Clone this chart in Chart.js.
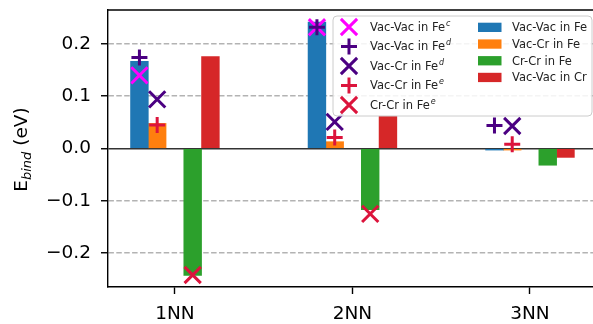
<!DOCTYPE html>
<html>
<head>
<meta charset="utf-8">
<script src="https://cdn.jsdelivr.net/npm/chart.js@4.4.1/dist/chart.umd.min.js"></script>
<style>
  html, body { margin: 0; padding: 0; background: #fff; }
  #wrap { width: 593px; height: 324px; position: relative; }
</style>
</head>
<body>
<div id="wrap"><canvas id="bindChart"></canvas></div>
<script>
const categories = ['1NN', '2NN', '3NN'];

// computed binding energies (eV), one bar per category
const vacVacFe = [0.167, 0.242, -0.003];
const vacCrFe  = [0.048, 0.013, -0.003];
const crCrFe   = [-0.243, -0.117, -0.032];
const vacVacCr = [0.176, 0.062, -0.017];

// literature values (eV)
const vacVacFeC = [0.140, 0.232, null];
const vacVacFeD = [0.174, 0.232, 0.044];
const vacCrFeD  = [0.094, 0.051, 0.043];
const vacCrFeE  = [0.045, 0.021, 0.008];
const crCrFeE   = [-0.242, -0.125, null];

const yTicks = [-0.2, -0.1, 0.0, 0.1, 0.2];

// five slots of 0.1 around each category, middle one left empty
const SLOT_W = 0.1;
const slotX = (i, slot) => i + (slot - 2) * SLOT_W;
const toPoints = (vals, slot) => vals.map((v, i) => ({ x: slotX(i, slot), y: v }));

const FONT = 'DejaVu Sans';
Chart.defaults.font.family = FONT;
Chart.defaults.color = '#000';

function barSet(label, vals, slot, color) {
  return {
    type: 'bar', label, data: toPoints(vals, slot),
    backgroundColor: color, borderWidth: 0,
    grouped: false, barPercentage: 1, categoryPercentage: 1, order: 10
  };
}

function markSet(label, sup, vals, slot, color, style, order) {
  return {
    type: 'scatter', label, sup, data: toPoints(vals, slot),
    pointStyle: style, radius: style === 'cross' ? 8 : 11.5,
    borderColor: color, backgroundColor: color, borderWidth: 3,
    showLine: false, order
  };
}

const insetLegend = {
  id: 'insetLegend',
  afterDraw(chart) {
    const { ctx, chartArea } = chart;
    const x0 = chartArea.right - 260, y0 = chartArea.top + 6;
    ctx.save();
    ctx.beginPath();
    ctx.roundRect(x0, y0, 259, 100, 4);
    ctx.fillStyle = 'rgba(255,255,255,0.85)';
    ctx.fill();
    ctx.strokeStyle = '#cccccc';
    ctx.lineWidth = 1;
    ctx.stroke();

    const marks = chart.data.datasets.filter(d => d.type === 'scatter');
    const bars = chart.data.datasets.filter(d => d.type === 'bar');
    ctx.textBaseline = 'alphabetic';

    marks.forEach((d, k) => {
      const cy = y0 + 10.5 + k * 19.5;
      ctx.strokeStyle = d.borderColor;
      ctx.fillStyle = d.borderColor;
      ctx.lineWidth = d.borderWidth;
      Chart.helpers.drawPoint(ctx, { pointStyle: d.pointStyle, radius: d.radius, rotation: 0, borderWidth: d.borderWidth }, x0 + 16, cy + 0.5);
      ctx.fillStyle = '#222';
      ctx.font = '11.5px ' + FONT;
      ctx.fillText(d.label, x0 + 37, cy + 4);
      const w = ctx.measureText(d.label).width;
      ctx.font = 'italic 8px ' + FONT;
      ctx.fillText(d.sup, x0 + 38 + w, cy - 1);
    });

    bars.forEach((d, k) => {
      const cy = y0 + 11.3 + k * 16.7;
      ctx.fillStyle = d.backgroundColor;
      ctx.fillRect(x0 + 145, cy - 4.6, 23.5, 9.3);
      ctx.fillStyle = '#222';
      ctx.font = '11.5px ' + FONT;
      ctx.fillText(d.label, x0 + 179, cy + 4);
    });
    ctx.restore();
  }
};

const frameAndTitle = {
  id: 'frameAndTitle',
  afterDraw(chart) {
    const { ctx, chartArea } = chart;
    ctx.save();
    // top spine
    ctx.strokeStyle = '#000';
    ctx.lineWidth = 1.4;
    ctx.beginPath();
    ctx.moveTo(chartArea.left - 0.7, chartArea.top);
    ctx.lineTo(chartArea.right, chartArea.top);
    ctx.stroke();

    // y title with subscript
    ctx.translate(27, (chartArea.top + chartArea.bottom) / 2 + 1);
    ctx.rotate(-Math.PI / 2);
    ctx.fillStyle = '#000';
    ctx.textBaseline = 'alphabetic';
    const main = '18.5px ' + FONT, sub = 'italic 13px ' + FONT;
    ctx.font = main; const wE = ctx.measureText('E').width;
    const wTail = ctx.measureText(' (eV)').width;
    ctx.font = sub; const wSub = ctx.measureText('bind').width;
    let x = -(wE + wSub + wTail) / 2;
    ctx.font = main; ctx.fillText('E', x, 0); x += wE;
    ctx.font = sub; ctx.fillText('bind', x, 3.5); x += wSub;
    ctx.font = main; ctx.fillText(' (eV)', x, 0);
    ctx.restore();
  }
};

const fmt = v => (v < 0 ? '\u2212' : '') + Math.abs(v).toFixed(1);

new Chart(document.getElementById('bindChart'), {
  type: 'bar',
  data: {
    datasets: [
      markSet('Vac-Vac in Fe', 'c', vacVacFeC, 0, '#ff00ff', 'crossRot', 5),
      markSet('Vac-Vac in Fe', 'd', vacVacFeD, 0, '#4b0082', 'cross', 4),
      markSet('Vac-Cr in Fe', 'd', vacCrFeD, 1, '#4b0082', 'crossRot', 3),
      markSet('Vac-Cr in Fe', 'e', vacCrFeE, 1, '#dc143c', 'cross', 2),
      markSet('Cr-Cr in Fe', 'e', crCrFeE, 3, '#dc143c', 'crossRot', 1),
      barSet('Vac-Vac in Fe', vacVacFe, 0, '#1f77b4'),
      barSet('Vac-Cr in Fe', vacCrFe, 1, '#ff7f0e'),
      barSet('Cr-Cr in Fe', crCrFe, 3, '#2ca02c'),
      barSet('Vac-Vac in Cr', vacVacCr, 4, '#d62728')
    ]
  },
  options: {
    responsive: true,
    maintainAspectRatio: false,
    animation: false,
    events: [],
    layout: { padding: { top: 10, left: 0, right: 0, bottom: 0 }, autoPadding: false },
    plugins: { legend: { display: false }, tooltip: { enabled: false } },
    scales: {
      x: {
        type: 'linear',
        offset: false,
        min: -0.377,
        max: 2.355,
        afterFit: s => { s.height = 37; s.paddingLeft = 0; s.paddingRight = 0; },
        afterBuildTicks: s => { s.ticks = categories.map((_, i) => ({ value: i })); },
        ticks: {
          callback: v => categories[v],
          autoSkip: false, maxRotation: 0,
          font: { size: 18.5 }, padding: 9, color: '#000'
        },
        grid: {
          offset: false,
          drawOnChartArea: false, drawTicks: true,
          tickLength: 7, tickWidth: 1.4, tickColor: '#000'
        },
        border: { display: true, color: '#000', width: 1.4 }
      },
      y: {
        min: -0.265,
        max: 0.265,
        afterFit: s => { s.width = 108; s.paddingTop = 0; s.paddingBottom = 0; },
        afterBuildTicks: s => { s.ticks = yTicks.map(v => ({ value: v })); },
        ticks: {
          callback: v => fmt(v),
          font: { size: 18.5 }, padding: 10, color: '#000'
        },
        grid: {
          color: c => (c.tick && c.tick.value === 0 ? '#333' : '#b3b3b3'),
          lineWidth: 1.5,
          tickLength: 7, tickWidth: 1.4, tickColor: '#000'
        },
        border: {
          display: true, color: '#000', width: 1.4,
          dash: c => (c.tick && c.tick.value !== 0 ? [5.5, 2.4] : [])
        }
      }
    }
  },
  plugins: [insetLegend, frameAndTitle]
});
</script>
</body>
</html>
